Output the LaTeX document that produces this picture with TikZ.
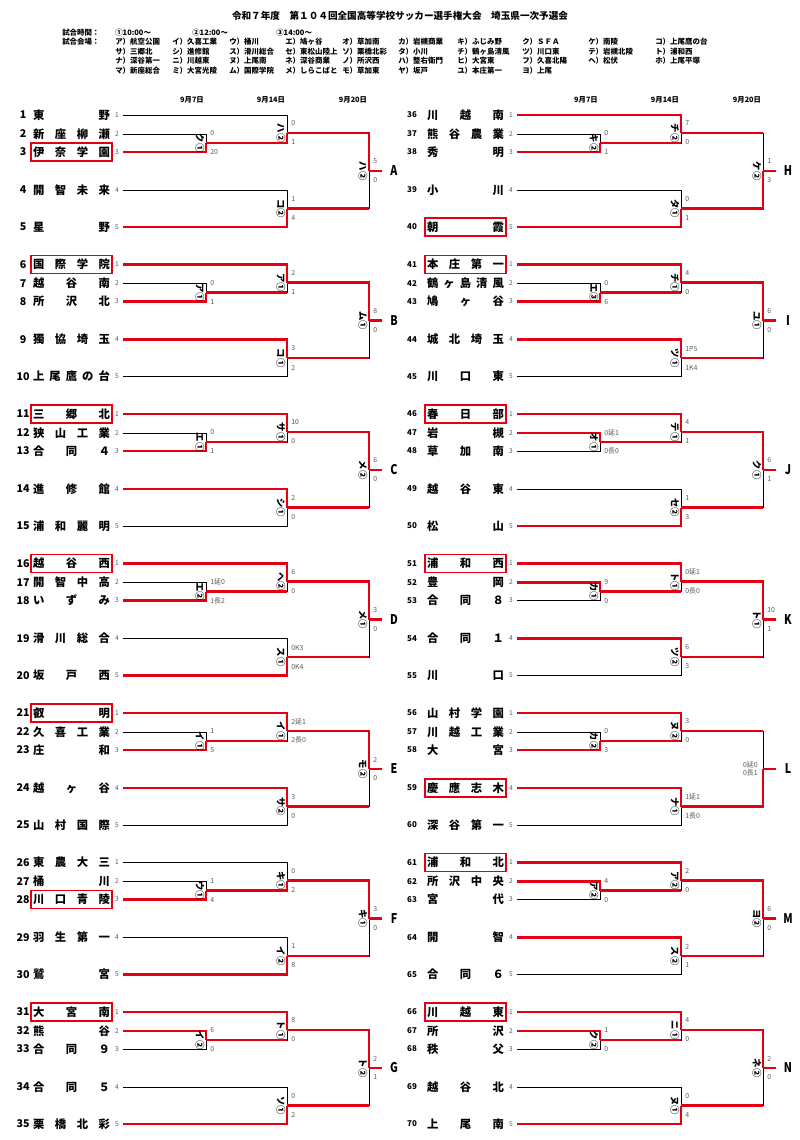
\documentclass[tikz,border=0pt]{standalone}
\usepackage{fontspec}
\setmainfont{Noto Sans CJK JP}
\usetikzlibrary{calc}
\definecolor{winred}{RGB}{228,0,18}
\definecolor{scgray}{RGB}{90,90,90}
\tikzset{
  ln/.style={line width=0.6pt},
  wl/.style={draw=winred, line width=1.7pt},
  nm/.style={inner sep=0pt, font=\bfseries\fontsize{8.5}{8.5}\selectfont},
  nmbox/.style={nm, draw=winred, line width=1.4pt, inner xsep=1.6pt, minimum height=13.5pt},
  num/.style={inner sep=0pt, font=\bfseries\fontsize{8}{8}\selectfont},
  seed/.style={inner sep=0pt, text=scgray, font=\fontsize{5}{5}\selectfont},
  sco/.style={inner sep=0pt, anchor=west, text=scgray, font=\fontsize{5.2}{5.2}\selectfont},
  ven/.style={inner sep=0pt, rotate=-90, font=\bfseries\fontsize{7}{7}\selectfont},
  day/.style={inner sep=0pt, font=\bfseries\fontsize{5.5}{5.5}\selectfont},
  zone/.style={inner sep=0pt, xscale=0.8, font=\bfseries\fontsize{10}{10}\selectfont},
  hd/.style={inner sep=0pt, anchor=west, font=\bfseries\fontsize{5.6}{5.6}\selectfont},
}
% block: line starts, junctions, black lines
\newcommand{\bk}[3]{
  \coordinate (#11) at (#2+123,#3);
  \coordinate (#12) at (#2+123,#3+19);
  \coordinate (#13) at (#2+123,#3+37);
  \coordinate (#14) at (#2+123,#3+75);
  \coordinate (#15) at (#2+123,#3+112);
  \coordinate (#1a) at (#2+206,#3+28);
  \coordinate (#1ax) at (#2+287,#3+28);
  \coordinate (#1b) at (#2+287,#3+18);
  \coordinate (#1bx) at (#2+369,#3+18);
  \coordinate (#1c) at (#2+287,#3+93.5);
  \coordinate (#1cx) at (#2+369,#3+93.5);
  \coordinate (#1d) at (#2+369,#3+56);
  \coordinate (#1e) at (#2+382,#3+56);
  \draw[ln] (#11) -| (#1b);
  \draw[ln] (#12) -| (#1a);
  \draw[ln] (#13) -| (#1a);
  \draw[ln] (#1a) -| (#1b);
  \draw[ln] (#14) -| (#1c);
  \draw[ln] (#15) -| (#1c);
  \draw[ln] (#1b) -| (#1d);
  \draw[ln] (#1c) -| (#1d);
}
% winners: first round, second round (top / bottom), final
\newcommand{\wn}[5]{
  \draw[wl] (#1#2) -| (#1a);
  \draw[wl] (#1a) -- (#1ax);
  \draw[wl] (#1#3) -| (#1b);
  \draw[wl] (#1#4) -| (#1c);
  \draw[wl] (#1b) -- (#1bx);
  \draw[wl] (#1c) -- (#1cx);
  \draw[wl] (#1#5) -| (#1d);
  \draw[wl] (#1d) -- (#1e);
  \node[zone] (z#1) at ($(#1e)+(12,0)$) {#1};
}
\newcommand{\gm}[4]{
  \node[ven] (v#1) at ($(#1)+(-6,0)$) {#2};
  \node[sco] (u#1) at ($(#1)+(4,-9.5)$) {#3};
  \node[sco] (w#1) at ($(#1)+(4,9.5)$) {#4};
}
\newcommand{\tm}[5]{
  \node[num] (n#3) at ($(#1#2)+(-100,0)$) {#3};
  \node[#5] (t#3) at ($(#1#2)+(-51.5,0)$) {\makebox[57.75pt][s]{#4}};
  \node[seed] (s#3) at ($(#1#2)+(-6,0)$) {#2};
}

\begin{document}
\begin{tikzpicture}[x=0.75pt,y=-0.75pt]
\fill[white] (0,0) rectangle (800,1140);
\useasboundingbox (0,0) rectangle (800,1140);
%
\node[inner sep=0pt, font=\bfseries\fontsize{7.2}{7.2}\selectfont] (ttl) at (400,16) {令和７年度　第１０４回全国高等学校サッカー選手権大会　埼玉県一次予選会};
\node[hd] (jk) at (62,33) {試合時間：};
\node[hd] (jk1) at (115,33) {①10:00～};
\node[hd] (jk2) at (192,33) {②12:00～};
\node[hd] (jk3) at (276,33) {③14:00～};
\node[hd] (kj) at (62,42) {試合会場：};
\def\cols{{115,172,229,285,342,398,457,522,588,655}}
\foreach \t [count=\i] in {ア）航空公園,イ）久喜工業,ウ）桶川,エ）鳩ヶ谷,オ）草加南,カ）岩槻商業,キ）ふじみ野,ク）ＳＦＡ,ケ）南陵,コ）上尾鷹の台}
  {\pgfmathsetmacro\cx{\cols[\i-1]}\node[hd] (ra\i) at (\cx,42) {\t};}
\foreach \t [count=\i] in {サ）三郷北,シ）進修館,ス）滑川総合,セ）東松山陸上,ソ）栗橋北彩,タ）小川,チ）鶴ヶ島清風,ツ）川口東,テ）岩槻北陵,ト）浦和西}
  {\pgfmathsetmacro\cx{\cols[\i-1]}\node[hd] (rb\i) at (\cx,51.5) {\t};}
\foreach \t [count=\i] in {ナ）深谷第一,ニ）川越東,ヌ）上尾南,ネ）深谷商業,ノ）所沢西,ハ）整右衛門,ヒ）大宮東,フ）久喜北陽,ヘ）松伏,ホ）上尾平塚}
  {\pgfmathsetmacro\cx{\cols[\i-1]}\node[hd] (rc\i) at (\cx,61) {\t};}
\foreach \t [count=\i] in {マ）新座総合,ミ）大宮光陵,ム）国際学院,メ）しらこばと,モ）草加東,ヤ）坂戸,ユ）本庄第一,ヨ）上尾}
  {\pgfmathsetmacro\cx{\cols[\i-1]}\node[hd] (rd\i) at (\cx,70.5) {\t};}
%
\node[day] (dl1) at (192,100) {9月7日};
\node[day] (dl2) at (271,100) {9月14日};
\node[day] (dl3) at (353,100) {9月20日};
\node[day] (dr1) at (586,100) {9月7日};
\node[day] (dr2) at (665,100) {9月14日};
\node[day] (dr3) at (747,100) {9月20日};
%
\bk{A}{0}{115}
\bk{B}{0}{264.5}
\bk{C}{0}{414}
\bk{D}{0}{563.5}
\bk{E}{0}{713}
\bk{F}{0}{862.5}
\bk{G}{0}{1012}
\bk{H}{394}{115}
\bk{I}{394}{264.5}
\bk{J}{394}{414}
\bk{K}{394}{563.5}
\bk{L}{394}{713}
\bk{M}{394}{862.5}
\bk{N}{394}{1012}
%
\wn{A}{3}{a}{5}{b}
\wn{B}{3}{1}{4}{b}
\wn{C}{3}{1}{4}{b}
\wn{D}{3}{1}{5}{b}
\wn{E}{3}{1}{4}{b}
\wn{F}{3}{a}{5}{b}
\wn{G}{2}{1}{5}{b}
\wn{H}{3}{1}{5}{c}
\wn{I}{3}{1}{4}{b}
\wn{J}{2}{1}{5}{b}
\wn{K}{2}{1}{4}{b}
\wn{L}{3}{1}{4}{c}
\wn{M}{2}{1}{4}{b}
\wn{N}{2}{1}{5}{b}
%
\gm{Aa}{ク①}{0}{20}
\gm{Ab}{ハ②}{0}{1}
\gm{Ac}{コ②}{1}{4}
\gm{Ad}{ハ②}{5}{0}
\gm{Ba}{ア①}{0}{1}
\gm{Bb}{ア①}{2}{1}
\gm{Bc}{コ①}{3}{2}
\gm{Bd}{ム①}{8}{0}
\gm{Ca}{エ①}{0}{1}
\gm{Cb}{サ①}{10}{0}
\gm{Cc}{シ①}{2}{0}
\gm{Cd}{メ②}{6}{0}
\gm{Da}{エ②}{1延0}{1長2}
\gm{Db}{ヘ②}{6}{0}
\gm{Dc}{ス①}{0K3}{0K4}
\gm{Dd}{メ①}{3}{0}
\gm{Ea}{イ①}{1}{5}
\gm{Eb}{イ①}{2延1}{2長0}
\gm{Ec}{サ②}{3}{0}
\gm{Ed}{モ②}{2}{0}
\gm{Fa}{ウ①}{1}{4}
\gm{Fb}{キ①}{0}{2}
\gm{Fc}{イ②}{1}{8}
\gm{Fd}{キ①}{3}{0}
\gm{Ga}{イ②}{6}{0}
\gm{Gb}{ト①}{8}{0}
\gm{Gc}{ソ①}{0}{2}
\gm{Gd}{ト②}{2}{1}
\gm{Ha}{キ②}{0}{1}
\gm{Hb}{チ②}{7}{0}
\gm{Hc}{タ①}{0}{1}
\gm{Hd}{ケ②}{1}{3}
\gm{Ia}{エ③}{0}{6}
\gm{Ib}{チ①}{4}{0}
\gm{Ic}{ツ①}{1P5}{1K4}
\gm{Id}{ユ①}{6}{0}
\gm{Ja}{オ①}{0延1}{0長0}
\gm{Jb}{テ①}{4}{1}
\gm{Jc}{セ②}{1}{3}
\gm{Jd}{ク①}{6}{1}
\gm{Ka}{カ①}{9}{0}
\gm{Kb}{ト①}{0延1}{0長0}
\gm{Kc}{ツ②}{6}{3}
\gm{Kd}{ト①}{10}{1}
\gm{La}{カ②}{0}{3}
\gm{Lb}{ヌ②}{3}{0}
\gm{Lc}{ナ①}{1延1}{1長0}
\node[sco, anchor=east] (uLd) at ($(Ld)+(-5,-4.5)$) {0延0};
\node[sco, anchor=east] (wLd) at ($(Ld)+(-5,4.5)$) {0長1};
\gm{Ma}{ア②}{4}{0}
\gm{Mb}{ア②}{2}{0}
\gm{Mc}{ス②}{2}{1}
\gm{Md}{ヨ②}{6}{0}
\gm{Na}{ク②}{1}{0}
\gm{Nb}{ニ①}{4}{0}
\gm{Nc}{ヌ①}{0}{4}
\gm{Nd}{ネ②}{2}{0}
%
\tm{A}{1}{1}{東 野}{nm}
\tm{A}{2}{2}{新 座 柳 瀬}{nm}
\tm{A}{3}{3}{伊 奈 学 園}{nmbox}
\tm{A}{4}{4}{開 智 未 来}{nm}
\tm{A}{5}{5}{星 野}{nm}
\tm{B}{1}{6}{国 際 学 院}{nmbox}
\tm{B}{2}{7}{越 谷 南}{nm}
\tm{B}{3}{8}{所 沢 北}{nm}
\tm{B}{4}{9}{獨 協 埼 玉}{nm}
\tm{B}{5}{10}{上 尾 鷹 の 台}{nm}
\tm{C}{1}{11}{三 郷 北}{nmbox}
\tm{C}{2}{12}{狭 山 工 業}{nm}
\tm{C}{3}{13}{合 同 ４}{nm}
\tm{C}{4}{14}{進 修 館}{nm}
\tm{C}{5}{15}{浦 和 麗 明}{nm}
\tm{D}{1}{16}{越 谷 西}{nmbox}
\tm{D}{2}{17}{開 智 中 高}{nm}
\tm{D}{3}{18}{い ず み}{nm}
\tm{D}{4}{19}{滑 川 総 合}{nm}
\tm{D}{5}{20}{坂 戸 西}{nm}
\tm{E}{1}{21}{叡 明}{nmbox}
\tm{E}{2}{22}{久 喜 工 業}{nm}
\tm{E}{3}{23}{庄 和}{nm}
\tm{E}{4}{24}{越 ヶ 谷}{nm}
\tm{E}{5}{25}{山 村 国 際}{nm}
\tm{F}{1}{26}{東 農 大 三}{nm}
\tm{F}{2}{27}{桶 川}{nm}
\tm{F}{3}{28}{川 口 青 陵}{nmbox}
\tm{F}{4}{29}{羽 生 第 一}{nm}
\tm{F}{5}{30}{鷲 宮}{nm}
\tm{G}{1}{31}{大 宮 南}{nmbox}
\tm{G}{2}{32}{熊 谷}{nm}
\tm{G}{3}{33}{合 同 ９}{nm}
\tm{G}{4}{34}{合 同 ５}{nm}
\tm{G}{5}{35}{栗 橋 北 彩}{nm}
%
\begin{scope}[num/.style={inner sep=0pt, xshift=-3.75pt, font=\bfseries\fontsize{6}{6}\selectfont}]
\tm{H}{1}{36}{川 越 南}{nm}
\tm{H}{2}{37}{熊 谷 農 業}{nm}
\tm{H}{3}{38}{秀 明}{nm}
\tm{H}{4}{39}{小 川}{nm}
\tm{H}{5}{40}{朝 霞}{nmbox}
\tm{I}{1}{41}{本 庄 第 一}{nmbox}
\tm{I}{2}{42}{鶴 ヶ 島 清 風}{nm}
\tm{I}{3}{43}{鳩 ヶ 谷}{nm}
\tm{I}{4}{44}{城 北 埼 玉}{nm}
\tm{I}{5}{45}{川 口 東}{nm}
\tm{J}{1}{46}{春 日 部}{nmbox}
\tm{J}{2}{47}{岩 槻}{nm}
\tm{J}{3}{48}{草 加 南}{nm}
\tm{J}{4}{49}{越 谷 東}{nm}
\tm{J}{5}{50}{松 山}{nm}
\tm{K}{1}{51}{浦 和 西}{nmbox}
\tm{K}{2}{52}{豊 岡}{nm}
\tm{K}{3}{53}{合 同 ８}{nm}
\tm{K}{4}{54}{合 同 １}{nm}
\tm{K}{5}{55}{川 口}{nm}
\tm{L}{1}{56}{山 村 学 園}{nm}
\tm{L}{2}{57}{川 越 工 業}{nm}
\tm{L}{3}{58}{大 宮}{nm}
\tm{L}{4}{59}{慶 應 志 木}{nmbox}
\tm{L}{5}{60}{深 谷 第 一}{nm}
\tm{M}{1}{61}{浦 和 北}{nmbox}
\tm{M}{2}{62}{所 沢 中 央}{nm}
\tm{M}{3}{63}{宮 代}{nm}
\tm{M}{4}{64}{開 智}{nm}
\tm{M}{5}{65}{合 同 ６}{nm}
\tm{N}{1}{66}{川 越 東}{nmbox}
\tm{N}{2}{67}{所 沢}{nm}
\tm{N}{3}{68}{秩 父}{nm}
\tm{N}{4}{69}{越 谷 北}{nm}
\tm{N}{5}{70}{上 尾 南}{nm}
\end{scope}

\end{tikzpicture}
\end{document}
